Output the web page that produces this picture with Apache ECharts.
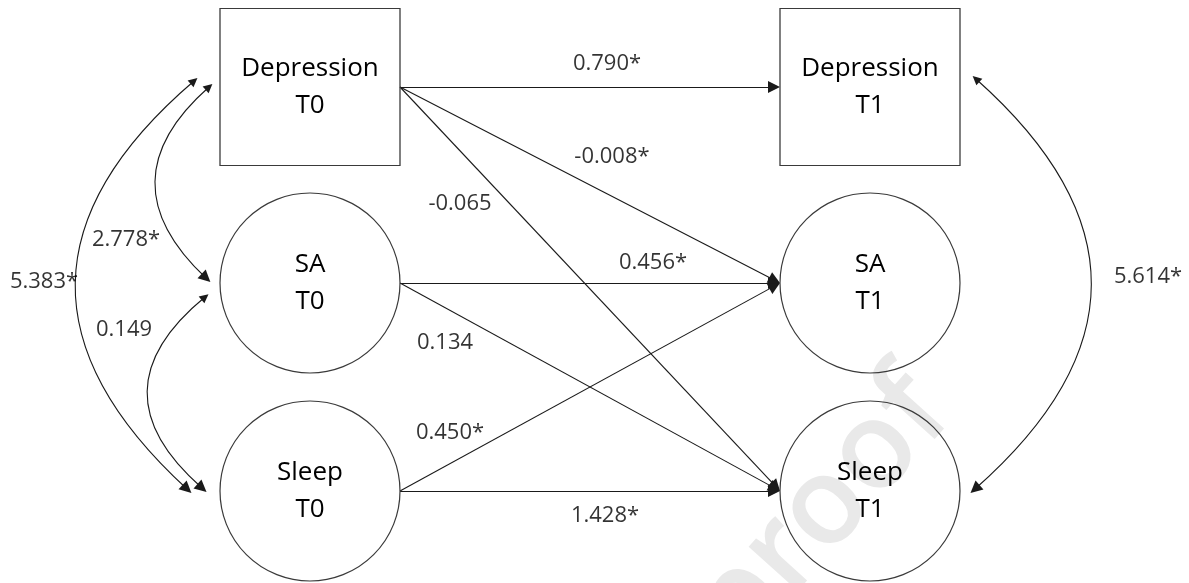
<!DOCTYPE html>
<html><head><meta charset="utf-8">
<script src="https://cdn.jsdelivr.net/npm/echarts@6/dist/echarts.min.js"></script>
<style>html,body{margin:0;padding:0;background:#fff}#c{width:1189px;height:583px}</style>
</head><body><div id="c"></div>
<script>
// ---------- data ----------
const nodeNames  = ['Depression T0', 'SA T0', 'Sleep T0', 'Depression T1', 'SA T1', 'Sleep T1'];
const nodeLabels = ['Depression\nT0', 'SA\nT0', 'Sleep\nT0', 'Depression\nT1', 'SA\nT1', 'Sleep\nT1'];
const nodeKinds  = ['observed', 'latent', 'latent', 'observed', 'latent', 'latent'];

const pathFrom = [0, 0, 0, 1, 1, 2, 2];
const pathTo   = [3, 4, 5, 4, 5, 4, 5];
const pathCoef = ['0.790*', '-0.008*', '-0.065', '0.456*', '0.134', '0.450*', '1.428*'];

const covFrom  = [0, 1, 0, 3];
const covTo    = [1, 2, 2, 5];
const covValue = ['2.778*', '0.149', '5.383*', '5.614*'];

// ---------- layout (diagram geometry) ----------
const colX = [310, 870];
const rowY = [87, 283, 491];
const nodeCol = [0, 0, 0, 1, 1, 1];
const nodeRow = [0, 1, 2, 0, 1, 2];
const halfW = 90;
const arrowLen = 12;
const pathLabelPos = [[607, 64], [612, 157], [460, 204], [653, 263], [445, 343], [450, 433], [605, 516]];
const covLayout = [
  { a: [209, 87],  b: [206, 278], curv: -0.55, label: [126, 240] },
  { a: [205, 297], b: [202, 488], curv: -0.59, label: [124, 330] },
  { a: [194, 81],  b: [187, 489], curv: -0.565, label: [44, 282] },
  { a: [976, 79],  b: [975, 489], curv: 0.565, label: [1148, 277] }
];

const FONT = 'Open Sans';
const center = i => [colX[nodeCol[i]], rowY[nodeRow[i]]];

const nodeData = nodeNames.map((n, i) => {
  const obs = nodeKinds[i] === 'observed';
  return {
    name: n,
    value: center(i),
    symbol: obs ? 'rect' : 'circle',
    symbolSize: obs ? [180, 157] : 180,
    label: { formatter: nodeLabels[i] }
  };
});

const pathData = pathFrom.map((f, k) => {
  const s = center(f), t = center(pathTo[k]);
  const p1 = [s[0] + halfW, s[1]];
  const p2 = [t[0] - halfW, t[1]];
  const dx = p2[0] - p1[0], dy = p2[1] - p1[1];
  const L = Math.hypot(dx, dy);
  const e = [p2[0] - dx / L * arrowLen / 2, p2[1] - dy / L * arrowLen / 2];
  return { coords: [p1, e] };
});

const covData = covFrom.map((f, k) => ({
  coords: [covLayout[k].a, covLayout[k].b],
  lineStyle: { curveness: covLayout[k].curv }
}));

const labelData = pathCoef.map((v, k) => ({ value: pathLabelPos[k], name: v }))
  .concat(covValue.map((v, k) => ({ value: covLayout[k].label, name: v })));

const chart = echarts.init(document.getElementById('c'), null, { renderer: 'canvas' });
chart.setOption({
  animation: false,
  backgroundColor: '#ffffff',
  grid: { left: 0, right: 0, top: 0, bottom: 0 },
  xAxis: { type: 'value', min: 0, max: 1189, show: false },
  yAxis: { type: 'value', min: 0, max: 583, inverse: true, show: false },
  graphic: [{
    type: 'text', z: 0, x: 822, y: 512, rotation: 48 * Math.PI / 180,
    style: { text: 'proof', fontSize: 122, fontWeight: 600, fontFamily: FONT, fill: '#e9e9e9', align: 'center', verticalAlign: 'middle' }
  }],
  series: [
    {
      type: 'lines', coordinateSystem: 'cartesian2d', silent: true, z: 3,
      symbol: ['none', 'triangle'], symbolSize: [9, arrowLen],
      lineStyle: { color: '#1a1a1a', width: 1.1, opacity: 1 },
      data: pathData
    },
    {
      type: 'lines', coordinateSystem: 'cartesian2d', silent: true, z: 3,
      symbol: ['triangle', 'triangle'], symbolSize: [9, arrowLen],
      lineStyle: { color: '#1a1a1a', width: 1.1, opacity: 1 },
      data: covData
    },
    {
      type: 'scatter', silent: true, z: 4,
      itemStyle: { color: 'rgba(0,0,0,0)', borderColor: '#3a3a3a', borderWidth: 1.2, opacity: 1 },
      label: { show: true, position: 'inside', color: '#000', fontSize: 26, lineHeight: 37, fontFamily: FONT },
      emphasis: { disabled: true },
      data: nodeData
    },
    {
      type: 'scatter', silent: true, z: 5, symbolSize: 0,
      label: { show: true, position: 'inside', formatter: p => p.name, color: '#000', fontSize: 22, fontFamily: FONT },
      emphasis: { disabled: true },
      data: labelData
    }
  ]
});
</script></body></html>
